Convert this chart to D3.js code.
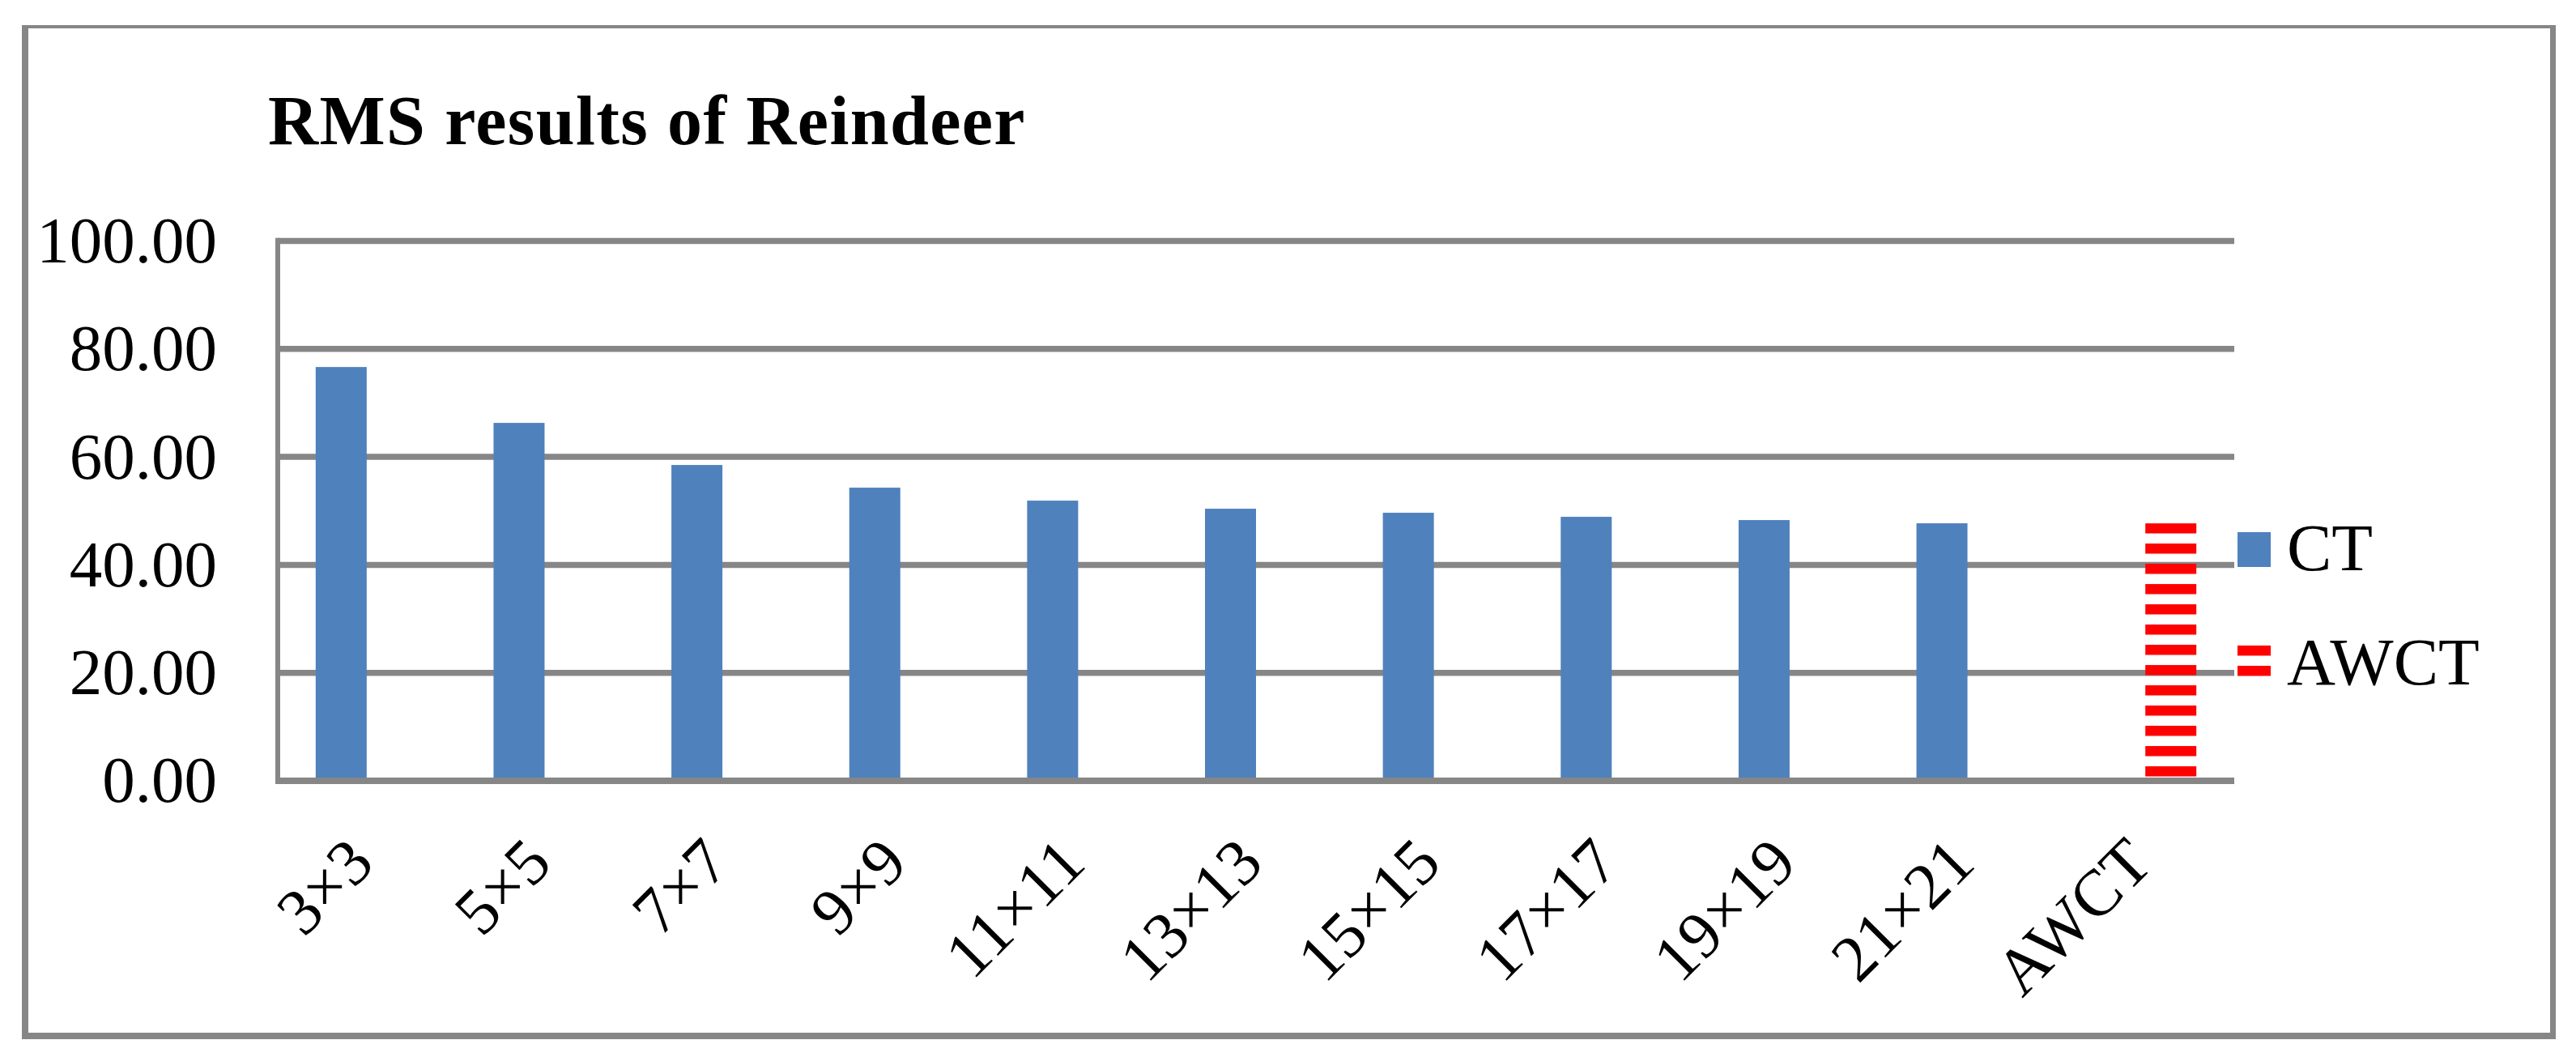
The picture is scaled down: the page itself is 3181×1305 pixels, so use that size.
<!DOCTYPE html>
<html>
<head>
<meta charset="utf-8">
<script src="https://d3js.org/d3.v7.min.js"></script>
<style>
  html, body { margin: 0; padding: 0; background: #fff; }
  text { font-family: "Liberation Serif", "Times New Roman", serif; fill: #000; }
</style>
</head>
<body>
<script>
/* Chart data */
var categories = ['3×3', '5×5', '7×7', '9×9', '11×11', '13×13',
                  '15×15', '17×17', '19×19', '21×21', 'AWCT'];
var seriesNames = ['CT', 'AWCT'];
var ctValues = [76.65, 66.3, 58.5, 54.3, 51.9, 50.4, 49.65, 48.9, 48.3, 47.7, null];
var awctValues = [null, null, null, null, null, null, null, null, null, null, 47.7];
var yTicks = [0, 20, 40, 60, 80, 100];
var titleText = 'RMS results of Reindeer';

/* Page and plot geometry */
var W = 3181, H = 1305;
var plot = {left: 343, right: 2759, top: 297.5, bottom: 964};
var gray = '#868686', blue = '#4F81BD', red = '#FF0000';

var svg = d3.select('body')
    .append('svg')
    .attr('width', W)
    .attr('height', H);

/* Stripe pattern for the AWCT series */
var defs = svg.append('defs');
function stripes(id, y0) {
    var p = defs.append('pattern')
        .attr('id', id)
        .attr('patternUnits', 'userSpaceOnUse')
        .attr('x', 0)
        .attr('y', y0)
        .attr('width', 20)
        .attr('height', 25);
    p.append('rect')
        .attr('width', 20)
        .attr('height', 12.5)
        .attr('fill', red);
}

/* Scales */
var x = d3.scaleBand()
    .domain(categories)
    .range([plot.left, plot.right])
    .paddingInner(0)
    .paddingOuter(0);

var xInner = d3.scaleBand()
    .domain(seriesNames)
    .range([0, x.bandwidth()])
    .paddingInner(0)
    .paddingOuter(0.743);

var y = d3.scaleLinear()
    .domain([0, 100])
    .range([plot.bottom, plot.top]);

/* Gridlines */
svg.append('g')
    .selectAll('line')
    .data(yTicks.filter(function (d) { return d > 0; }))
    .enter()
    .append('line')
    .attr('x1', plot.left)
    .attr('x2', plot.right)
    .attr('y1', function (d) { return y(d); })
    .attr('y2', function (d) { return y(d); })
    .attr('stroke', gray)
    .attr('stroke-width', 7.5);

/* Y axis labels */
var yAxis = d3.axisLeft(y)
    .tickValues(yTicks)
    .tickFormat(d3.format('.2f'))
    .tickSize(0)
    .tickPadding(75);
var gy = svg.append('g')
    .attr('transform', 'translate(' + plot.left + ',0)')
    .call(yAxis);
gy.select('.domain').remove();
gy.selectAll('text')
    .attr('font-family', '"Liberation Serif", serif')
    .attr('font-size', 81)
    .attr('fill', '#000');

/* Bars: CT series */
var ctData = categories.map(function (c, i) { return {cat: c, v: ctValues[i]}; })
    .filter(function (d) { return d.v !== null; });
svg.append('g')
    .selectAll('rect')
    .data(ctData)
    .enter()
    .append('rect')
    .attr('x', function (d) { return x(d.cat) + xInner('CT'); })
    .attr('width', xInner.bandwidth())
    .attr('y', function (d) { return y(d.v); })
    .attr('height', function (d) { return y(0) - y(d.v); })
    .attr('fill', blue);

/* Bars: AWCT series (striped) */
var awData = categories.map(function (c, i) { return {cat: c, v: awctValues[i]}; })
    .filter(function (d) { return d.v !== null; });
awData.forEach(function (d, i) { stripes('awStripe' + i, y(d.v)); });
svg.append('g')
    .selectAll('rect')
    .data(awData)
    .enter()
    .append('rect')
    .attr('x', function (d) { return x(d.cat) + xInner('AWCT'); })
    .attr('width', xInner.bandwidth())
    .attr('y', function (d) { return y(d.v); })
    .attr('height', function (d) { return y(0) - y(d.v); })
    .attr('fill', function (d, i) { return 'url(#awStripe' + i + ')'; });

/* Axis lines */
svg.append('line')
    .attr('x1', plot.left).attr('x2', plot.left)
    .attr('y1', plot.top - 3.75).attr('y2', plot.bottom + 3.75)
    .attr('stroke', gray).attr('stroke-width', 6);
svg.append('line')
    .attr('x1', plot.left - 3).attr('x2', plot.right)
    .attr('y1', plot.bottom).attr('y2', plot.bottom)
    .attr('stroke', gray).attr('stroke-width', 8);

/* X axis labels, rotated */
var xAxis = d3.axisBottom(x).tickSize(0).tickPadding(0);
var gx = svg.append('g')
    .attr('transform', 'translate(0,' + plot.bottom + ')')
    .call(xAxis);
gx.select('.domain').remove();
gx.selectAll('text')
    .attr('font-family', '"Liberation Serif", serif')
    .attr('font-size', 81)
    .attr('fill', '#000')
    .attr('text-anchor', 'end')
    .attr('dy', null)
    .attr('y', null)
    .attr('transform', 'translate(12,105) rotate(-45)');

/* Title */
svg.append('text')
    .attr('x', 331)
    .attr('y', 178)
    .attr('font-size', 86)
    .attr('font-weight', 'bold')
    .attr('letter-spacing', 1.4)
    .text(titleText);

/* Legend */
var legend = svg.append('g');
stripes('legStripe', 797);
legend.append('rect')
    .attr('x', 2763).attr('y', 657)
    .attr('width', 41).attr('height', 43)
    .attr('fill', blue);
legend.append('rect')
    .attr('x', 2763).attr('y', 797)
    .attr('width', 41).attr('height', 38)
    .attr('fill', 'url(#legStripe)');
legend.selectAll('text')
    .data(seriesNames)
    .enter()
    .append('text')
    .attr('x', 2824)
    .attr('y', function (d, i) { return 704 + i * 141; })
    .attr('font-size', 83)
    .text(function (d) { return d; });

/* Outer chart border */
var border = svg.append('g').attr('stroke', gray);
border.append('line').attr('x1', 31).attr('x2', 31).attr('y1', 31).attr('y2', 1283).attr('stroke-width', 8);
border.append('line').attr('x1', 27).attr('x2', 3156).attr('y1', 33).attr('y2', 33).attr('stroke-width', 4);
border.append('line').attr('x1', 3152.5).attr('x2', 3152.5).attr('y1', 31).attr('y2', 1283).attr('stroke-width', 7);
border.append('line').attr('x1', 27).attr('x2', 3156).attr('y1', 1279).attr('y2', 1279).attr('stroke-width', 8);
</script>
</body>
</html>
